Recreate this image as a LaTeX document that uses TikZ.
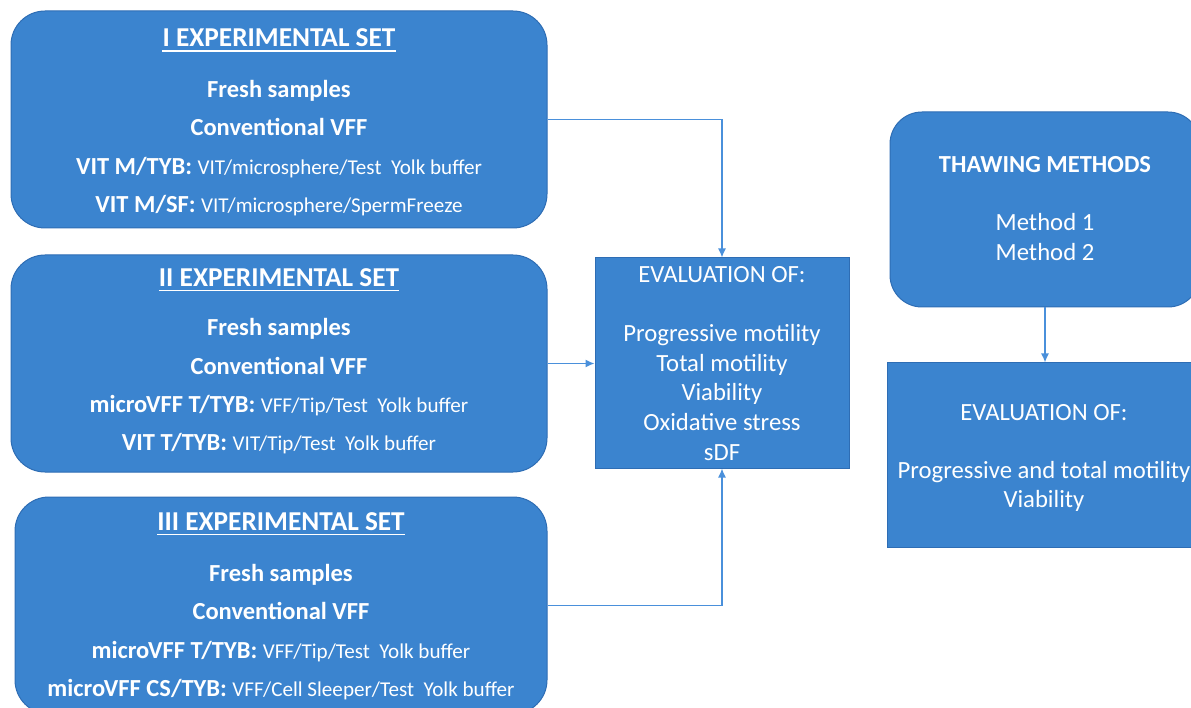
\documentclass[tikz,border=0pt]{standalone}
\usepackage{fontspec}
\setmainfont{Carlito}
\usetikzlibrary{arrows.meta}
\definecolor{boxblue}{HTML}{3B84CF}
\definecolor{boxedge}{HTML}{2E6DB4}
\definecolor{arrowblue}{HTML}{4A90DB}
\newcommand\mydesc[1]{{\mdseries\fontsize{21.1}{24}\selectfont #1}}
\tikzset{
  shapebox/.style={draw=boxedge, line width=1pt, fill=boxblue, inner sep=0pt},
  setbox/.style={shapebox, rounded corners=34pt, minimum height=217pt},
  evbox/.style={shapebox},
  ln/.style={anchor=base, inner sep=0pt, text=white},
  ttl/.style={ln, font=\fontsize{27.3}{30}\selectfont\bfseries},
  bd/.style={ln, font=\fontsize{24.5}{29.6}\selectfont\bfseries},
  ev/.style={ln, font=\fontsize{24.7}{29.6}\selectfont},
  uline/.style={draw=white, line width=1.6pt},
  arr/.style={draw=arrowblue, line width=1.4pt, -{Latex[length=9pt,width=8pt]}},
}
\begin{document}
\begin{tikzpicture}[x=1pt, y=-1pt]
\useasboundingbox (0,0) rectangle (1191,708);
\clip (0,0) rectangle (1191,708);

% boxes
\node[setbox, minimum width=536pt] (setI) at (279,119.5) {};
\node[setbox, minimum width=536pt] (setII) at (279,363.5) {};
\node[setbox, minimum width=532pt] (setIII) at (281,605.5) {};
\node[evbox, minimum width=254pt, minimum height=210pt] (eval) at (722,363) {};
\node[shapebox, rounded corners=32pt, minimum width=310pt, minimum height=195pt] (thaw) at (1045,209.5) {};
\node[evbox, minimum width=314pt, minimum height=184pt] (evalB) at (1044,455) {};

% set I text
\node[ttl] (tI) at (279,46.8) {I EXPERIMENTAL SET};
\draw[uline] ([yshift=-4pt]tI.base west) -- ([yshift=-4pt]tI.base east);
\node[bd] (fI) at (279,98) {Fresh samples};
\node[bd] (cI) at (279,136) {Conventional VFF};
\node[bd] (aI) at (279,174.5) {VIT M/TYB: \mydesc{VIT/microsphere/Test\ \ Yolk buffer}};
\node[bd] (bI) at (279,213) {VIT M/SF: \mydesc{VIT/microsphere/SpermFreeze}};

% set II text
\node[ttl] (tII) at (279,286.7) {II EXPERIMENTAL SET};
\draw[uline] ([yshift=-4pt]tII.base west) -- ([yshift=-4pt]tII.base east);
\node[bd] (fII) at (279,336) {Fresh samples};
\node[bd] (cII) at (279,374) {Conventional VFF};
\node[bd] (aII) at (279,412.7) {microVFF T/TYB: \mydesc{VFF/Tip/Test\ \ Yolk buffer}};
\node[bd] (bII) at (279,450.5) {VIT T/TYB: \mydesc{VIT/Tip/Test\ \ Yolk buffer}};

% set III text
\node[ttl] (tIII) at (281,530.5) {III EXPERIMENTAL SET};
\draw[uline] ([yshift=-4pt]tIII.base west) -- ([yshift=-4pt]tIII.base east);
\node[bd] (fIII) at (281,581) {Fresh samples};
\node[bd] (cIII) at (281,619) {Conventional VFF};
\node[bd] (aIII) at (281,658) {microVFF T/TYB: \mydesc{VFF/Tip/Test\ \ Yolk buffer}};
\node[bd] (bIII) at (281,696.5) {microVFF CS/TYB: \mydesc{VFF/Cell Sleeper/Test\ \ Yolk buffer}};

% evaluation text
\node[ev] (e0) at (722,282.5) {EVALUATION OF:};
\node[ev] (e1) at (722,341.7) {Progressive motility};
\node[ev] (e2) at (722,371.3) {Total motility};
\node[ev] (e3) at (722,400.9) {Viability};
\node[ev] (e4) at (722,430.5) {Oxidative stress};
\node[ev] (e5) at (722,460.1) {sDF};

% thawing text
\node[bd] (th0) at (1045,172.5) {THAWING METHODS};
\node[ev] (th1) at (1045,231) {Method 1};
\node[ev] (th2) at (1045,261) {Method 2};

% evaluation B text
\node[ev] (f0) at (1044,420) {EVALUATION OF:};
\node[ev] (f1) at (1044,478) {Progressive and total motility};
\node[ev] (f2) at (1044,507.5) {Viability};

% connectors
\draw[arr] (setI.east) -| (eval.north);
\draw[arr] (setII.east) -- (setII.east -| eval.west);
\draw[arr] (setIII.east) -| (eval.south);
\draw[arr] (thaw.south) -- (thaw.south |- evalB.north);
\end{tikzpicture}
\end{document}
